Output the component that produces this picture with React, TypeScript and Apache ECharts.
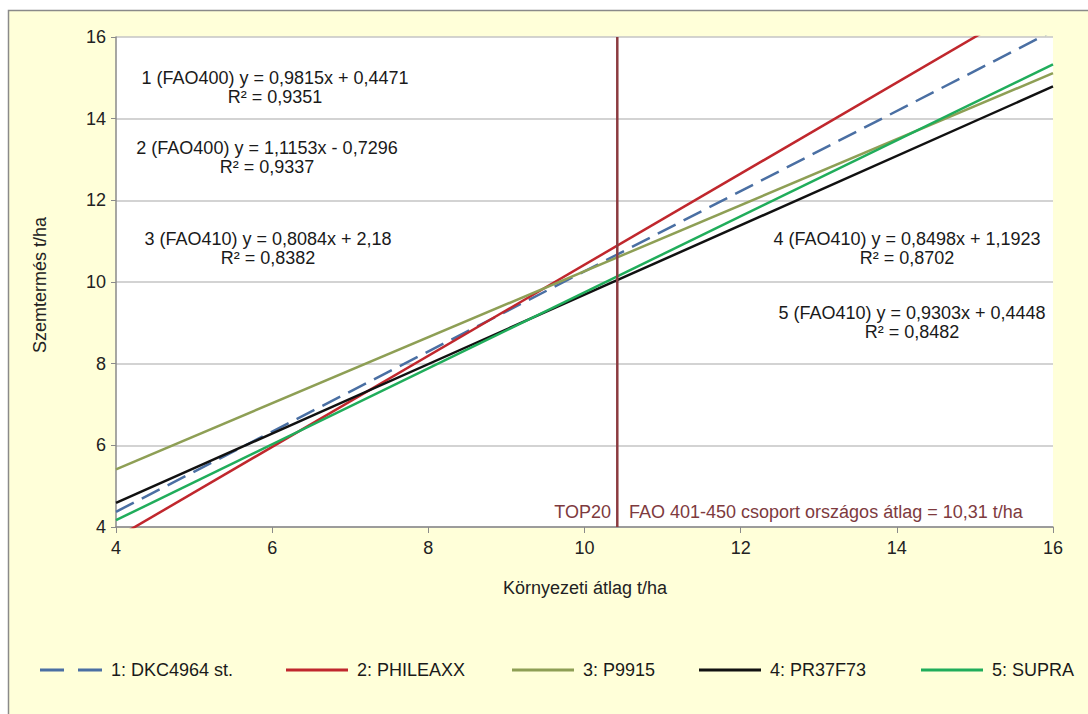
import React, { useEffect, useRef } from "react";
import * as echarts from "echarts";

// Regression lines of grain yield against the environmental mean
const cultivars = ["1: DKC4964 st.", "2: PHILEAXX", "3: P9915", "4: PR37F73", "5: SUPRA"];
const maturityGroups = ["FAO400", "FAO400", "FAO410", "FAO410", "FAO410"];
const slopes = [0.9815, 1.1153, 0.8084, 0.8498, 0.9303];
const intercepts = [0.4471, -0.7296, 2.18, 1.1923, 0.4448];
const rSquared = [0.9351, 0.9337, 0.8382, 0.8702, 0.8482];
const xRange = [4, 16];
const axisTicks = [4, 6, 8, 10, 12, 14, 16];

// TOP20 mean marker and the national group mean quoted next to it
const top20Mean = 10.42;
const nationalMean = 10.31;

const lineColors = ["#4A6FA3", "#C0272D", "#8E9F55", "#111111", "#20AD5B"];
const lineTypes: any[] = [[20, 9], "solid", "solid", "solid", "solid"];
const legendLeft = [35, 281, 507, 694, 916];
const legendIcons = [
  "path://M0,0h24v3h-24z M38,0h24v3h-24z",
  "path://M0,0h62v3h-62z",
  "path://M0,0h62v3h-62z",
  "path://M0,0h62v3h-62z",
  "path://M0,0h62v3h-62z",
];

const FONT = "'Liberation Sans', Arial, sans-serif";

const dec = (v: number) => String(Math.abs(v)).replace(".", ",");
const equation = (i: number) =>
  `${i + 1} (${maturityGroups[i]}) y = ${dec(slopes[i])}x ${intercepts[i] < 0 ? "-" : "+"} ${dec(intercepts[i])}`;
const r2Text = (i: number) => `R² = ${dec(rSquared[i])}`;

// Label anchors (centre x, first line y) for each equation box
const labelAnchors = [
  [275, 78],
  [267, 148],
  [268, 239],
  [907, 239],
  [912, 313],
];

export default function App() {
  const ref = useRef<HTMLDivElement>(null);

  useEffect(() => {
    if (!ref.current) return;
    const chart = echarts.init(ref.current, null, { renderer: "svg" });

    const regressionSeries = cultivars.map((name, i) => ({
      name,
      type: "line",
      data: xRange.map((x) => [x, slopes[i] * x + intercepts[i]]),
      showSymbol: false,
      symbol: "none",
      clip: true,
      lineStyle: { color: lineColors[i], width: 2.5, type: lineTypes[i] },
      itemStyle: { color: lineColors[i] },
      z: 3 + i,
    }));

    const markerSeries = {
      name: "TOP20",
      type: "line",
      data: [
        [top20Mean, 4],
        [top20Mean, 16],
      ],
      symbol: "none",
      lineStyle: { color: "#8C3B40", width: 2.5 },
      z: 10,
    };

    const textEls: any[] = [];
    labelAnchors.forEach(([cx, cy], i) => {
      textEls.push({
        type: "text",
        x: cx,
        y: cy,
        z: 20,
        style: { text: equation(i), font: `18px ${FONT}`, fill: "#1a1a1a", align: "center", verticalAlign: "middle" },
      });
      textEls.push({
        type: "text",
        x: cx,
        y: cy + 19,
        z: 20,
        style: { text: r2Text(i), font: `18px ${FONT}`, fill: "#1a1a1a", align: "center", verticalAlign: "middle" },
      });
    });

    chart.setOption({
      animation: false,
      backgroundColor: "#ffffff",
      grid: { left: 116, top: 37, right: 35, bottom: 187, backgroundColor: "#ffffff", show: true, borderWidth: 0 },
      xAxis: {
        type: "value",
        min: 4,
        max: 16,
        interval: 2,
        splitLine: { show: false },
        axisLine: { onZero: false, lineStyle: { color: "#8a8a8a", width: 1.5 } },
        axisTick: { show: true, length: 6, lineStyle: { color: "#8a8a8a" } },
        axisLabel: { fontSize: 18, fontFamily: FONT, color: "#222", margin: 12, formatter: (v: number) => (axisTicks.includes(v) ? String(v) : "") },
      },
      yAxis: {
        type: "value",
        min: 4,
        max: 16,
        interval: 2,
        splitLine: { show: true, lineStyle: { color: "#c4c4c4", width: 1.5 } },
        axisLine: { show: true, onZero: false, lineStyle: { color: "#8a8a8a", width: 1.5 } },
        axisTick: { show: true, length: 5, lineStyle: { color: "#8a8a8a" } },
        axisLabel: { fontSize: 18, fontFamily: FONT, color: "#222", margin: 10 },
      },
      legend: cultivars.map((name, i) => ({
        data: [{ name, icon: legendIcons[i], itemStyle: { color: lineColors[i] } }],
        left: legendLeft[i],
        top: 656,
        itemWidth: 62,
        itemHeight: 3,
        textStyle: { fontSize: 18, fontFamily: FONT, color: "#1a1a1a", padding: [0, 0, 0, 4] },
        selectedMode: false,
      })),
      graphic: [
        {
          type: "rect",
          z: -10,
          silent: true,
          shape: { x: 8.5, y: 10.5, width: 1100, height: 720 },
          style: { fill: "#FFFFD9", stroke: "#8a8a8a", lineWidth: 1.5 },
        },
        {
          type: "text",
          x: 40,
          y: 285,
          rotation: Math.PI / 2,
          style: { text: "Szemtermés t/ha", font: `18px ${FONT}`, fill: "#222", align: "center", verticalAlign: "middle" },
        },
        {
          type: "text",
          x: 585,
          y: 588,
          style: { text: "Környezeti átlag t/ha", font: `18px ${FONT}`, fill: "#222", align: "center", verticalAlign: "middle" },
        },
        {
          type: "text",
          x: 611,
          y: 512,
          z: 20,
          style: { text: "TOP20", font: `18px ${FONT}`, fill: "#7E3A3E", align: "right", verticalAlign: "middle" },
        },
        {
          type: "text",
          x: 629,
          y: 512,
          z: 20,
          style: {
            text: `FAO 401-450 csoport országos átlag = ${dec(nationalMean)} t/ha`,
            font: `18px ${FONT}`,
            fill: "#7E3A3E",
            align: "left",
            verticalAlign: "middle",
          },
        },
        ...textEls,
      ],
      series: [...regressionSeries, markerSeries],
    });

    return () => chart.dispose();
  }, []);

  return <div ref={ref} style={{ position: "absolute", left: 0, top: 0, width: 1088, height: 714 }} />;
}
